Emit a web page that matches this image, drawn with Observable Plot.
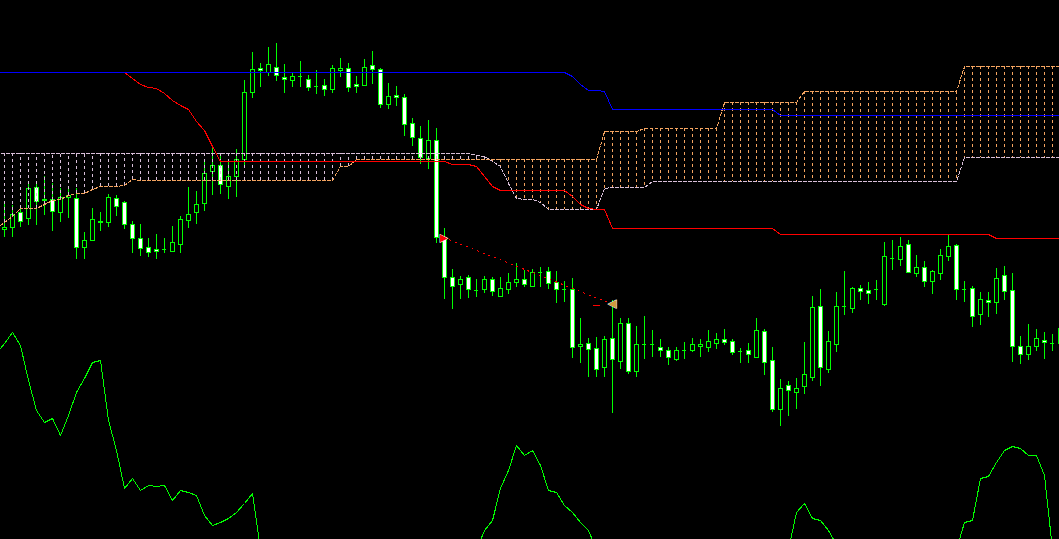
<!DOCTYPE html>
<html><head><meta charset="utf-8">
<script src="https://cdn.jsdelivr.net/npm/d3@7"></script>
<script src="https://cdn.jsdelivr.net/npm/@observablehq/plot@0.6"></script>
<style>html,body{margin:0;padding:0;background:#000;overflow:hidden}</style>
</head><body><div id="chart"></div>
<script>
// Bar prices (arbitrary price units), bar index 0..132
const open = [310,312,327,321,352,339,340,327,342,341, 292,299,317,317,341,337,315,301,292,290,
  290,288,295,319,327,336,368,374,353,363, 380,447,471,467,472,462,459,463,460,453,
  454,450,469,471,455,454,474,470,435,444, 442,416,401,381,399,302,262,255,262,249,
  250,260,243,250,257,260,253,267,268,257, 250,250,193,196,191,172,201,178,216,168,
  195,195,192,189,180,189,189,193,192,196, 200,198,188,189,182,208,179,130,154,147,
  153,162,233,170,195,233,231,251,249,250, 235,281,280,295,266,272,258,266,283,294,
  250,251,225,239,237,264,249,193,185,193, 199,196,196];
const high = [336,334,332,356,356,363,356,351,351,351, 307,331,327,345,344,338,318,315,301,305,
  301,313,323,352,348,380,391,386,379,390, 459,487,476,492,496,475,466,478,464,469,
  460,474,481,476,463,480,488,471,456,453, 445,421,413,419,411,311,270,263,264,260,
  263,262,262,266,276,269,270,272,272,268, 258,261,221,201,202,203,239,221,221,213,
  223,209,200,192,192,197,201,200,209,206, 210,200,191,196,221,210,192,160,158,161,
  197,243,250,208,247,268,252,254,257,259, 297,299,302,299,284,278,269,290,304,295,
  258,253,247,247,271,273,266,203,215,210, 207,205,219];
const low = [302,302,312,314,314,324,308,317,321,280, 280,298,308,312,323,310,286,283,282,280,
  286,287,286,311,315,328,344,345,340,342, 374,441,452,463,458,446,452,452,448,445,
  443,446,462,447,446,453,455,431,430,433, 403,393,375,370,296,240,230,240,241,242,
  246,243,242,245,252,252,252,252,250,236, 237,181,176,162,162,162,126,170,165,162,
  180,182,182,174,178,180,187,182,187,190, 194,184,176,176,181,164,127,113,123,130,
  145,158,153,166,187,224,226,239,235,239, 233,269,273,266,262,252,245,259,278,239,
  237,212,214,222,225,239,177,175,179,188, 180,188,189];
const close = [312,325,318,351,338,340,328,342,344,292, 299,320,318,342,333,315,301,291,287,288,
  290,297,320,325,335,366,374,355,363,380, 447,470,469,475,464,460,463,463,452,453,
  450,471,471,452,453,472,470,435,443,442, 415,402,382,399,302,262,253,260,250,249,
  260,248,251,257,260,255,267,267,256,250, 250,192,195,190,170,200,180,216,168,195,
  195,195,189,182,189,189,195,195,198,200, 197,187,188,185,209,177,130,151,149,151,
  165,232,172,198,233,233,251,248,246,250, 283,281,293,267,272,258,268,284,293,250,
  250,223,240,237,261,248,193,185,193,201, 197,196,211];

// Indicator lines: bar index -1..132 (first value is the bar just off the left edge)
const tenkan = [467,467,467,467,467,467,467,467,467,467,467,467,467,467,467,467,467,
  461,455,452,451,446,439,434,430,418,409,393,
  378,378,378,378,378,378,378,378,378,378,378,378,378,378,378,378,378,378,378,378,378,378,378,378,378,378,378,378,378,
  375,375,375, 373,363,353,
  349,349,349,349,349,349,349,349,349,
  343,335,331,330,330,
  311,311,311,311,311,311,311,311,311,311,311,311,311,311,311,311,311,311,311,311,311,
  305,305,305,305,305,305,305,305,305,305,305,305,305,305,305,305,305,305,305,305,305,305,305,305,305,305,305,
  301,301,301,301,301,301,301,301,301];
const kijun = [467,467,467,467,467,467,467,467,467,467,467,467,467,467,467,467,467,467,467,467,467,
  467,467,467,467,467,467,467,467,467,467,467,467,467,467,467,467,467,467,467,467,
  467,467,467,467,467,467,467,467,467,467,467,467,467,467,467,467,467,467,467,467,
  467,467,467,467,467,467,467,467,467,467,467,
  463,455,449,449,448,
  430,430,430,430,430,430,430,430,430,430,430,430,430,430,430,430,430,430,430,430,430,
  424,424,424,424,424,424,424,424,424,424,424,424,424,424,424,424,424,424,
  424,424,424,424,424,424,424,424,424,424,424,424,424,424,424,424,424,424];
const spanA = [311,317,323,331,331,331,335,339,340,344,346,346,350,353,353,353,354,360,
  359,359,359,359,359,359,359,359,359,359,359,359,359,359,359,359,359,359,359,359,359,359,359,359,359,
  373,373,
  380,380,380,380,380,380,380,380,380,380,380,380,380,380,380,380,380,380,380,380,380,380,380,380,380,380,380,380,380,380,380,
  408,408,408,408,408,
  411,411,411,411,411,411,411,411,411,411,
  437,437,437,437,437,437,437,437,437,437,
  448,448,448,448,448,448,448,448,448,448,448,448,448,448,448,448,448,448,448,448,
  473,473,473,473,473,473,473,473,473,473,473,473,473];
const spanB = [386,386,386,386,386,386,386,386,386,386,386,386,386,386,386,386,386,386,386,386,386,
  386,386,386,386,386,386,386,386,386,386,386,386,386,386,386,386,386,386,386,386,
  386,386,386,386,386,386,386,386,386,386,386,386,386,386,386,386,386,386,386,
  384,383,378,373,356,341,340,340,337,
  330,330,330,330,330,330,330,
  351,
  352,352,352,352,352,
  358,358,358,358,358,358,358,358,358,358,358,358,358,358,358,358,358,358,358,358,
  358,358,358,358,358,358,358,358,358,358,358,358,358,358,358,358,358,358,358,
  382,382,382,382,382,382,382,382,382,382,382,382,382];

// Oscillator in the lower part, bar index -1..132 (null = off the visible area)
const osc = [186,196,207,194,159,129,117,121,104,124,147,161,177,179,119,89,51,61,49,54,53,54,39,49,47,44,24,14,17,21,27,36,46,
  -10,
  null,null,null,null,null,null,null,null,null,null,null,null,null,null,null,null,null,null,null,null,null,null,null,null,null,null,
  -10,9,19,51,69,94,84,89,74,49,47,34,27,17,9,-10,
  null,null,null,null,null,null,null,null,null,null,null,null,null,null,null,null,null,null,null,null,null,null,null,
  -10,27,36,21,19,9,-5,
  null,null,null,null,null,null,null,null,null,null,null,null,null,null,
  -10,17,19,61,63,77,89,93,91,84,84,64,-10,null];

// Trade: entry and exit (bar index, price), and the short stop mark
const tradeBars = [54.9, 75.8];
const tradePrices = [302, 236];
const stopBars = [73.6, 74.4];
const stopPrices = [234, 234];

const LIME = "#00ff00";
const CRISP = "crispEdges";
const bars = open.map((o, i) => ({i, o, h: high[i], l: low[i], c: close[i]}));
const bodies = bars.filter(d => d.o !== d.c);
const dojis = bars.filter(d => d.o === d.c);
const cloud = spanA.map((a, k) => ({i: k - 1, a, b: spanB[k]}));
const hatch = cloud.filter(d => d.i >= 0);
const idx = (d, k) => k - 1;

const chart = Plot.plot({
  width: 1059, height: 539,
  marginTop: 0, marginRight: 0, marginBottom: 0, marginLeft: 0,
  x: {type: "linear", domain: [-0.5, 131.875], axis: null},
  y: {type: "linear", domain: [0, 539], axis: null},
  color: {type: "identity"},
  style: {background: "#000", color: "#fff"},
  marks: [
    Plot.ruleX(bars, {x: "i", y1: "l", y2: "h", stroke: LIME, strokeWidth: 1, shapeRendering: CRISP}),
    Plot.rect(bodies, {x1: d => d.i - 0.25, x2: d => d.i + 0.25,
      y1: d => Math.min(d.o, d.c), y2: d => Math.max(d.o, d.c),
      fill: d => d.c > d.o ? "#000" : "#fff", stroke: LIME, strokeWidth: 1, shapeRendering: CRISP}),
    Plot.ruleY(dojis, {y: "o", x1: d => d.i - 0.25, x2: d => d.i + 0.25, stroke: LIME, shapeRendering: CRISP}),
    Plot.ruleX(hatch, {x: "i", y1: "a", y2: "b",
      stroke: d => d.a > d.b ? "#f4a460" : "#d8bfd8", strokeDasharray: "3,3", strokeWidth: 1, shapeRendering: CRISP}),
    Plot.line(cloud, {x: "i", y: "a", stroke: "#f4a460", strokeDasharray: "3,2", strokeWidth: 1, shapeRendering: CRISP}),
    Plot.line(cloud, {x: "i", y: "b", stroke: "#d8bfd8", strokeDasharray: "3,2", strokeWidth: 1, shapeRendering: CRISP}),
    Plot.line(tenkan, {x: idx, y: d => d, stroke: "#ff0000", strokeWidth: 1, shapeRendering: CRISP}),
    Plot.line(kijun, {x: idx, y: d => d, stroke: "#0000ff", strokeWidth: 1, shapeRendering: CRISP}),
    Plot.line(osc, {x: idx, y: d => d, stroke: LIME, strokeWidth: 1, clip: true, shapeRendering: CRISP}),
    Plot.link([0], {x1: () => tradeBars[0], y1: () => tradePrices[0], x2: () => tradeBars[1], y2: () => tradePrices[1],
      stroke: "#ff0000", strokeDasharray: "2,4", strokeWidth: 1, shapeRendering: CRISP}),
    Plot.link([0], {x1: () => stopBars[0], y1: () => stopPrices[0], x2: () => stopBars[1], y2: () => stopPrices[1],
      stroke: "#ff0000", strokeWidth: 1, shapeRendering: CRISP}),
    Plot.text([0], {x: () => tradeBars[0], y: () => tradePrices[0], text: () => "▶", fill: "#ff0000",
      stroke: "#fff", strokeWidth: 1, fontSize: 10, paintOrder: "stroke"}),
    Plot.text([0], {x: () => tradeBars[1] + 0.15, y: () => tradePrices[1], text: () => "◀", fill: "#d09a40",
      stroke: "#fff", strokeWidth: 0.8, fontSize: 11, paintOrder: "stroke"})
  ]
});
document.getElementById("chart").append(chart);
</script>
</body></html>
